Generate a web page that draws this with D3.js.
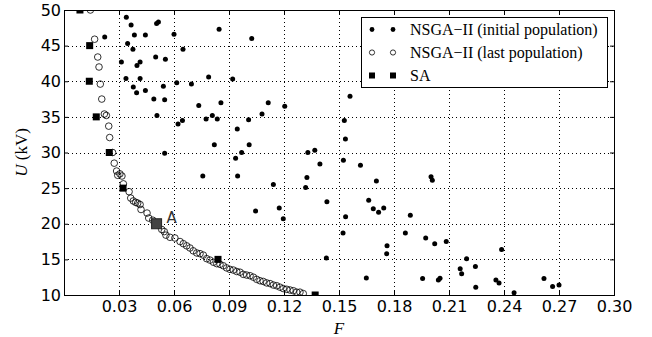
<!DOCTYPE html>
<html>
<head>
<meta charset="utf-8">
<script src="https://cdn.jsdelivr.net/npm/d3@7"></script>
<style>
  body { margin: 0; background: #fff; }
  svg { display: block; }
  .tick text { font-family: "DejaVu Sans", sans-serif; font-size: 16px; fill: #000; }
  .legend text { font-family: "Liberation Serif", serif; font-size: 16px; }
</style>
</head>
<body>
<svg id="chart" width="652" height="337"></svg>
<script>
// tick values
const xTicks = [0, 0.03, 0.06, 0.09, 0.12, 0.15, 0.18, 0.21, 0.24, 0.27, 0.30];
const yTicks = [10, 15, 20, 25, 30, 35, 40, 45, 50];

// NSGA-II initial population [F, U]
const initialPop = [
  [0.034, 49.0], [0.0366, 47.9], [0.0505, 48.1], [0.0515, 48.3], [0.0846, 47.3], [0.1024, 46.0],
  [0.0222, 46.2], [0.0384, 46.5], [0.0444, 46.5], [0.060, 46.6], [0.0347, 45.3], [0.0376, 44.5],
  [0.0649, 44.5], [0.0313, 42.7], [0.0415, 42.7], [0.0398, 42.2], [0.050, 43.4], [0.0553, 43.1],
  [0.0338, 40.4], [0.0415, 40.4], [0.0615, 39.8], [0.0695, 39.6], [0.0789, 40.6], [0.092, 40.3],
  [0.0378, 39.2], [0.0396, 38.4], [0.0444, 38.7], [0.0542, 39.3], [0.049, 37.5], [0.0549, 37.4],
  [0.0735, 36.6], [0.0856, 37.0], [0.0507, 35.2], [0.0622, 34.0], [0.0646, 34.5], [0.0775, 34.7],
  [0.0809, 35.2], [0.0836, 34.7], [0.0945, 33.3], [0.1007, 34.6], [0.082, 31.1], [0.101, 31.1],
  [0.0549, 29.9], [0.0757, 26.7], [0.0947, 26.7], [0.1142, 25.5], [0.0936, 29.2], [0.0969, 30.0],
  [0.108, 35.4], [0.1114, 37.0], [0.1204, 36.5], [0.1045, 21.8], [0.133, 30.0], [0.1368, 30.3],
  [0.1535, 31.9], [0.1524, 28.9], [0.1617, 28.2], [0.1396, 28.4], [0.1325, 26.5], [0.1318, 25.1],
  [0.1704, 26.0], [0.2002, 26.6], [0.2009, 26.1], [0.1662, 23.3], [0.1687, 22.1], [0.1716, 21.6],
  [0.1744, 22.2], [0.1434, 23.1], [0.1174, 22.2], [0.1196, 20.7], [0.1536, 21.0], [0.1889, 21.2],
  [0.1522, 18.7], [0.1862, 18.7], [0.1973, 18.0], [0.2022, 17.2], [0.1762, 16.9], [0.176, 15.8],
  [0.1431, 15.2], [0.1649, 12.4], [0.1956, 12.3], [0.156, 37.9], [0.1529, 34.5], [0.2085, 17.5],
  [0.2196, 15.1], [0.2161, 13.7], [0.2169, 13.0], [0.2244, 14.0], [0.2246, 11.1], [0.2042, 12.1],
  [0.2051, 12.35], [0.2387, 16.4], [0.2356, 12.1], [0.2373, 11.7], [0.2455, 10.3], [0.2618, 12.3],
  [0.2665, 11.2], [0.27, 11.4]
];

// NSGA-II last population [F, U]
const lastPop = [
  [0.0144, 50.0], [0.0167, 45.9], [0.0184, 43.4], [0.0191, 42.0], [0.0198, 39.6], [0.0206, 37.5],
  [0.022, 35.4], [0.0231, 35.2], [0.0244, 33.7], [0.0249, 32.1], [0.0265, 30.0], [0.0274, 28.5],
  [0.0287, 27.4], [0.0293, 26.8], [0.0305, 27.0], [0.0316, 26.7], [0.0324, 25.6], [0.0355, 24.5],
  [0.0364, 23.6], [0.0378, 23.2], [0.0391, 23.0], [0.0402, 22.9], [0.0415, 22.7], [0.042, 22.0],
  [0.0453, 21.5], [0.0462, 20.8], [0.0484, 20.5], [0.0533, 19.2], [0.0547, 18.9], [0.0556, 18.4],
  [0.0578, 18.1], [0.0605, 18.0], [0.0633, 17.5], [0.0651, 17.2], [0.0669, 16.9], [0.0687, 16.6],
  [0.0705, 16.2], [0.0724, 15.9], [0.0742, 15.8], [0.076, 15.6], [0.0778, 15.1], [0.0796, 14.9],
  [0.0815, 14.6], [0.0833, 14.4], [0.0851, 14.3], [0.0869, 14.1], [0.0887, 13.8], [0.0905, 13.6],
  [0.0924, 13.5], [0.0942, 13.3], [0.096, 13.2], [0.0978, 12.9], [0.0996, 12.8], [0.1015, 12.7],
  [0.1033, 12.5], [0.1051, 12.2], [0.1069, 12.0], [0.1087, 11.9], [0.1105, 11.7], [0.1124, 11.6],
  [0.1142, 11.4], [0.116, 11.3], [0.1178, 11.1], [0.1196, 10.9], [0.1215, 10.8], [0.1233, 10.7],
  [0.1251, 10.6], [0.1269, 10.4], [0.1287, 10.4], [0.1305, 10.2]
];

// SA solutions [F, U]
const saPoints = [
  [0.0087, 50], [0.014, 45], [0.0138, 40], [0.0176, 35], [0.0247, 30],
  [0.0322, 25], [0.084, 15], [0.137, 10]
];
const pointA = [0.0505, 20];

const legendLabels = ['NSGA\u2212II (initial population)', 'NSGA\u2212II (last population)', 'SA'];

const svg = d3.select('#chart');
const margin = {left: 64, right: 38, top: 10, bottom: 42};
const width = 652 - margin.left - margin.right;
const height = 337 - margin.top - margin.bottom;

const x = d3.scaleLinear().domain([0, 0.30]).range([margin.left, margin.left + width]);
const y = d3.scaleLinear().domain([10, 50]).range([margin.top + height, margin.top]);

svg.append('defs').append('clipPath').attr('id', 'plotClip')
  .append('rect')
  .attr('x', margin.left).attr('y', margin.top)
  .attr('width', width).attr('height', height);

// grid
const grid = svg.append('g').attr('class', 'grid')
  .attr('stroke', '#000').attr('stroke-width', 1).attr('stroke-dasharray', '1,3');
grid.selectAll('line.vgrid')
  .data(xTicks.slice(1, -1))
  .enter().append('line')
  .attr('x1', d => Math.round(x(d)) + 0.5).attr('x2', d => Math.round(x(d)) + 0.5)
  .attr('y1', margin.top).attr('y2', margin.top + height);
grid.selectAll('line.hgrid')
  .data(yTicks.slice(1, -1))
  .enter().append('line')
  .attr('y1', d => Math.round(y(d)) + 0.5).attr('y2', d => Math.round(y(d)) + 0.5)
  .attr('x1', margin.left).attr('x2', margin.left + width);

// axes, ticks inward
const fmtX = d => d === 0 ? '' : d.toFixed(2);
const xAxis = svg.append('g')
  .attr('transform', `translate(0,${margin.top + height})`)
  .call(d3.axisBottom(x).tickValues(xTicks).tickFormat(fmtX).tickSizeInner(-4).tickSizeOuter(0).tickPadding(6));
const xAxisTop = svg.append('g')
  .attr('transform', `translate(0,${margin.top})`)
  .call(d3.axisTop(x).tickValues(xTicks).tickFormat('').tickSizeInner(-4).tickSizeOuter(0));
const yAxis = svg.append('g')
  .attr('transform', `translate(${margin.left},0)`)
  .call(d3.axisLeft(y).tickValues(yTicks).tickFormat(d3.format('d')).tickSizeInner(-4).tickSizeOuter(0).tickPadding(3));
const yAxisRight = svg.append('g')
  .attr('transform', `translate(${margin.left + width},0)`)
  .call(d3.axisRight(y).tickValues(yTicks).tickFormat('').tickSizeInner(-4).tickSizeOuter(0));

[xAxis, xAxisTop, yAxis, yAxisRight].forEach(a => {
  a.select('.domain').remove();
  a.selectAll('.tick line').attr('stroke', '#000');
});

// frame
svg.append('rect')
  .attr('x', margin.left + 0.5).attr('y', margin.top + 0.5)
  .attr('width', width).attr('height', height)
  .attr('fill', 'none').attr('stroke', '#000').attr('stroke-width', 1);

// data
const dataGroup = svg.append('g').attr('clip-path', 'url(#plotClip)');

dataGroup.selectAll('circle.initial')
  .data(initialPop)
  .enter().append('circle')
  .attr('class', 'initial')
  .attr('cx', d => x(d[0])).attr('cy', d => y(d[1]))
  .attr('r', 2.5)
  .attr('fill', '#000');

dataGroup.selectAll('circle.last')
  .data(lastPop)
  .enter().append('circle')
  .attr('class', 'last')
  .attr('cx', d => x(d[0])).attr('cy', d => y(d[1]))
  .attr('r', 3.3)
  .attr('fill', 'none')
  .attr('stroke', '#000')
  .attr('stroke-width', 0.8);

const saSize = 7;
dataGroup.selectAll('rect.sa')
  .data(saPoints)
  .enter().append('rect')
  .attr('class', 'sa')
  .attr('x', d => x(d[0]) - saSize / 2).attr('y', d => y(d[1]) - saSize / 2)
  .attr('width', saSize).attr('height', saSize)
  .attr('fill', '#000');

// highlighted point A
const aSize = 10;
dataGroup.append('rect')
  .attr('x', x(pointA[0]) - aSize / 2).attr('y', y(pointA[1]) - aSize / 2)
  .attr('width', aSize).attr('height', aSize)
  .attr('fill', '#444').attr('stroke', '#222').attr('stroke-width', 1);
svg.append('text')
  .attr('x', x(pointA[0]) + 10).attr('y', y(pointA[1]) - 1)
  .attr('font-family', 'DejaVu Sans, sans-serif').attr('font-size', 15)
  .attr('fill', '#333')
  .text('A');

// axis labels
svg.append('text')
  .attr('x', x(0.15)).attr('y', 334)
  .attr('text-anchor', 'middle')
  .attr('font-family', 'Liberation Serif, serif').attr('font-size', 17).attr('font-style', 'italic')
  .text('F');

const yLabel = svg.append('text')
  .attr('transform', `translate(27,${y(30)}) rotate(-90)`)
  .attr('text-anchor', 'middle')
  .attr('font-family', 'Liberation Serif, serif').attr('font-size', 17);
yLabel.append('tspan').attr('font-style', 'italic').text('U');
yLabel.append('tspan').text(' (kV)');

// legend
const legend = svg.append('g').attr('class', 'legend');
legend.append('rect')
  .attr('x', 361.5).attr('y', 17.5).attr('width', 246).attr('height', 70)
  .attr('fill', '#fff').attr('stroke', '#000').attr('stroke-width', 1);

const rowY = i => 29.5 + i * 23;
const markerX = [372, 393];
legendLabels.forEach((label, i) => {
  markerX.forEach(mx => {
    if (i === 0) {
      legend.append('circle').attr('cx', mx).attr('cy', rowY(i)).attr('r', 2.4).attr('fill', '#000');
    } else if (i === 1) {
      legend.append('circle').attr('cx', mx).attr('cy', rowY(i)).attr('r', 2.6)
        .attr('fill', 'none').attr('stroke', '#000').attr('stroke-width', 0.8);
    } else {
      legend.append('rect').attr('x', mx - 3).attr('y', rowY(i) - 3).attr('width', 6).attr('height', 6).attr('fill', '#000');
    }
  });
  legend.append('text')
    .attr('x', 410).attr('y', rowY(i) + 5.5)
    .text(label);
});
</script>
</body>
</html>
